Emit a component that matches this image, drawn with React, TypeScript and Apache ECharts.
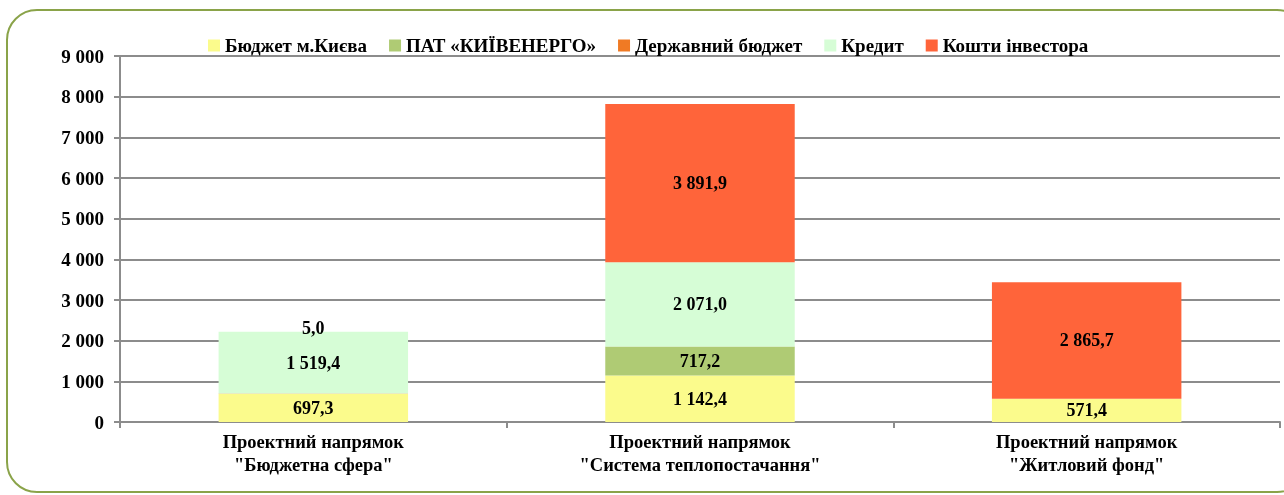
import React, { useEffect, useRef } from "react";
import * as echarts from "echarts";

const categories = [
  'Проектний напрямок\n"Бюджетна сфера"',
  'Проектний напрямок\n"Система теплопостачання"',
  'Проектний напрямок\n"Житловий фонд"',
];
const seriesNames = ["Бюджет м.Києва", "ПАТ «КИЇВЕНЕРГО»", "Державний бюджет", "Кредит", "Кошти інвестора"];
const budgetKyiv = [697.3, 1142.4, 571.4];
const kyivenergo = [null, 717.2, null];
const stateBudget = [5.0, null, null];
const credit = [1519.4, 2071.0, null];
const investor = [null, 3891.9, 2865.7];
const colors = ["#FBFB8C", "#AFCB74", "#F07A24", "#D6FDD6", "#FF643A"];
const yTicks = { min: 0, max: 9000, interval: 1000 };

const FONT = "'Liberation Serif', 'Times New Roman', serif";

function fmt(v: number, digits: number): string {
  const s = v.toFixed(digits);
  const [i, d] = s.split(".");
  const ii = i.replace(/\B(?=(\d{3})+(?!\d))/g, " ");
  return d !== undefined ? ii + "," + d : ii;
}

export default function App() {
  const ref = useRef<HTMLDivElement>(null);
  useEffect(() => {
    if (!ref.current) return;
    const chart = echarts.init(ref.current, undefined, { renderer: "svg" });
    const allData = [budgetKyiv, kyivenergo, stateBudget, credit, investor];
    const series = allData.map((arr, si) => ({
      name: seriesNames[si],
      type: "bar",
      stack: "total",
      barWidth: "49%",
      itemStyle: { color: colors[si] },
      data: arr.map((v, ci) => {
        if (si === 2 && ci === 0) {
          return { value: v, label: { offset: [0, -66] } };
        }
        return v;
      }),
      label: {
        show: true,
        position: "inside",
        color: "#000",
        fontFamily: FONT,
        fontWeight: "bold",
        fontSize: 18,
        formatter: (p: any) => (p.value == null ? "" : fmt(p.value, 1)),
      },
    }));
    chart.setOption({
      animation: false,
      graphic: [
        {
          type: "rect",
          shape: { x: 7, y: 10, width: 1300, height: 482, r: 30 },
          style: { fill: "none", stroke: "#8AA349", lineWidth: 2 },
          z: -10,
        },
      ],
      legend: {
        top: 31,
        left: 203,
        itemWidth: 12,
        itemHeight: 12,
        itemGap: 22,
        icon: "rect",
        textStyle: { fontFamily: FONT, fontWeight: "bold", fontSize: 19, color: "#000" },
        data: seriesNames,
      },
      grid: { left: 120, right: 4, top: 56, bottom: 73, containLabel: false },
      xAxis: {
        type: "category",
        data: categories,
        axisLine: { lineStyle: { color: "#8C8C8C", width: 2 } },
        axisTick: { show: true, alignWithLabel: false, length: 6, lineStyle: { color: "#8C8C8C", width: 2 } },
        axisLabel: {
          fontFamily: FONT,
          fontWeight: "bold",
          fontSize: 18.5,
          color: "#000",
          lineHeight: 23,
          margin: 8,
        },
      },
      yAxis: {
        type: "value",
        min: yTicks.min,
        max: yTicks.max,
        interval: yTicks.interval,
        axisLine: { show: true, lineStyle: { color: "#8C8C8C", width: 2 } },
        axisTick: { show: true, length: 6, lineStyle: { color: "#8C8C8C", width: 2 } },
        splitLine: { lineStyle: { color: "#8C8C8C", width: 2 } },
        axisLabel: {
          fontFamily: FONT,
          fontWeight: "bold",
          fontSize: 19,
          color: "#000",
          margin: 16,
          formatter: (v: number) => fmt(v, 0),
        },
      },
      series,
    });
    return () => chart.dispose();
  }, []);
  return <div ref={ref} style={{ position: "fixed", left: 0, top: 0, width: 1284, height: 495 }} />;
}
